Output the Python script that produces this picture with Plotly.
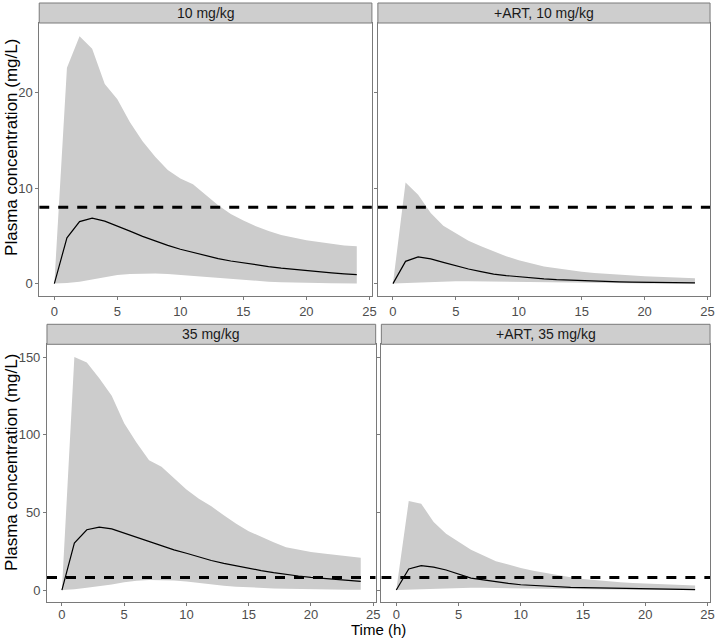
import plotly.graph_objects as go

# time grid (h)
time = list(range(25))

# 10 mg/kg
med_10 = [0, 4.8, 6.5, 6.85, 6.55, 6.05, 5.5, 4.95, 4.45, 4.0, 3.6, 3.25, 2.9,
          2.62, 2.37, 2.15, 1.95, 1.78, 1.62, 1.48, 1.35, 1.23, 1.12, 1.02, 0.93]
lo_10 = [0, 0.05, 0.2, 0.45, 0.7, 0.9, 1.0, 1.05, 1.05, 1.0, 0.9, 0.8, 0.65,
         0.55, 0.45, 0.35, 0.27, 0.2, 0.15, 0.1, 0.07, 0.05, 0.03, 0.02, 0.01]
hi_10 = [0, 22.6, 25.9, 24.6, 20.9, 19.3, 16.9, 14.9, 13.3, 11.9, 11.0, 10.4, 9.3,
         8.2, 7.3, 6.6, 6.0, 5.5, 5.1, 4.8, 4.55, 4.35, 4.15, 4.0, 3.9]

# +ART, 10 mg/kg
med_art10 = [0, 2.33, 2.79, 2.58, 2.23, 1.85, 1.53, 1.25, 1.0, 0.84, 0.7, 0.58, 0.49,
             0.41, 0.35, 0.29, 0.24, 0.2, 0.17, 0.15, 0.14, 0.12, 0.1, 0.08, 0.07]
lo_art10 = [0, 0.05, 0.12, 0.18, 0.22, 0.24, 0.24, 0.22, 0.2, 0.17, 0.14, 0.12, 0.1,
            0.08, 0.07, 0.06, 0.05, 0.04, 0.03, 0.03, 0.02, 0.02, 0.02, 0.02, 0.02]
hi_art10 = [0, 10.6, 9.3, 7.4, 6.06, 5.3, 4.5, 3.9, 3.35, 2.86, 2.44, 2.1, 1.8,
            1.6, 1.4, 1.25, 1.1, 1.0, 0.9, 0.83, 0.77, 0.71, 0.66, 0.61, 0.56]

# 35 mg/kg
med_35 = [0, 30.2, 38.8, 40.5, 39.4, 36.6, 34.0, 31.3, 28.7, 25.9, 23.7, 21.1, 19.0,
          17.2, 15.5, 14.0, 12.5, 11.2, 9.9, 9.05, 8.2, 7.5, 6.9, 6.25, 5.6]
lo_35 = [0, 0.5, 1.5, 2.5, 3.5, 5.0, 6.0, 6.5, 6.5, 6.2, 5.5, 4.5, 3.5,
         2.8, 2.2, 1.7, 1.3, 1.0, 0.8, 0.6, 0.5, 0.4, 0.3, 0.25, 0.2]
hi_35 = [0, 150.0, 146.5, 136.4, 125.0, 107.3, 94.8, 83.6, 79.3, 71.8, 64.7, 58.8, 53.9,
         48.1, 42.7, 37.9, 34.1, 30.8, 27.5, 25.8, 24.5, 23.5, 22.5, 21.6, 20.8]

# +ART, 35 mg/kg
med_art35 = [0, 13.6, 15.7, 14.7, 12.9, 10.5, 7.7, 6.5, 5.2, 4.3, 3.4, 2.9, 2.4,
             2.0, 1.7, 1.5, 1.3, 1.1, 0.9, 0.8, 0.65, 0.55, 0.45, 0.38, 0.3]
lo_art35 = [0, 0.3, 0.7, 1.0, 1.3, 1.5, 1.5, 1.4, 1.3, 1.1, 0.9, 0.75, 0.6,
            0.5, 0.4, 0.33, 0.27, 0.22, 0.18, 0.15, 0.12, 0.1, 0.08, 0.07, 0.06]
hi_art35 = [0, 57.3, 55.6, 43.8, 36.2, 30.8, 25.9, 22.2, 18.5, 16.4, 14.2, 12.5, 11.0,
            9.5, 8.2, 7.1, 6.25, 5.6, 5.0, 4.5, 4.1, 3.75, 3.45, 3.2, 3.0]

threshold = 8
panel_labels = ["10 mg/kg", "+ART, 10 mg/kg", "35 mg/kg", "+ART, 35 mg/kg"]
x_ticks = [0, 5, 10, 15, 20, 25]
y_ticks_top = [0, 10, 20]
y_ticks_bottom = [0, 50, 100, 150]

W, H = 723, 639
FONT = "Liberation Sans, Arial, sans-serif"
BAND = "#cccccc"
BORDER = "#7a7a7a"
TICKCOL = "#4d4d4d"


def fx(px):
    return px / W


def fy(px):
    return 1 - px / H


# panel boxes in pixels: (left, right, top, bottom)
boxes = [(39.5, 374.5, 23, 296), (380.5, 715, 23, 296),
         (47.3, 378.3, 344.3, 601.7), (384, 715, 344.3, 601.7)]
strip_h = 20

series = [(med_10, lo_10, hi_10), (med_art10, lo_art10, hi_art10),
          (med_35, lo_35, hi_35), (med_art35, lo_art35, hi_art35)]

fig = go.Figure()
layout = dict(width=W, height=H, margin=dict(l=0, r=0, t=0, b=0),
              paper_bgcolor="white", plot_bgcolor="white", showlegend=False,
              font=dict(family=FONT, color="black"))
shapes = []
annotations = []

for i, ((med, lo, hi), box, label) in enumerate(zip(series, boxes, panel_labels)):
    n = i + 1
    xa = "x" if n == 1 else f"x{n}"
    ya = "y" if n == 1 else f"y{n}"
    l, r, t, b = box
    top_row = i < 2
    left_col = i % 2 == 0

    fig.add_trace(go.Scatter(x=time, y=lo, mode="lines", line=dict(width=0),
                             xaxis=xa, yaxis=ya, hoverinfo="skip"))
    fig.add_trace(go.Scatter(x=time, y=hi, mode="lines", line=dict(width=0),
                             fill="tonexty", fillcolor=BAND,
                             xaxis=xa, yaxis=ya, hoverinfo="skip"))
    fig.add_trace(go.Scatter(x=time, y=med, mode="lines",
                             line=dict(color="black", width=1.2),
                             xaxis=xa, yaxis=ya))
    fig.add_trace(go.Scatter(x=[-1.2, 25.2], y=[threshold, threshold], mode="lines",
                             line=dict(color="black", width=3, dash="10px,9px"),
                             xaxis=xa, yaxis=ya))

    axis_common = dict(showgrid=False, zeroline=False, showline=True, mirror=True,
                       linecolor=BORDER, linewidth=1, ticks="outside", ticklen=3,
                       tickcolor=BORDER, tickfont=dict(size=13, color=TICKCOL,
                                                       family=FONT))
    layout["xaxis" if n == 1 else f"xaxis{n}"] = dict(
        axis_common, domain=[fx(l), fx(r)], range=[-1.2, 25.2],
        tickvals=x_ticks, anchor=ya, ticklabelstandoff=0 if top_row else -2)
    yr = [-1.3, 27.3] if top_row else [-7.5, 158.2]
    yt = y_ticks_top if top_row else y_ticks_bottom
    layout["yaxis" if n == 1 else f"yaxis{n}"] = dict(
        axis_common, domain=[fy(b), fy(t)], range=yr, tickvals=yt,
        showticklabels=left_col, anchor=xa)

    # strip
    shapes.append(dict(type="rect", xref="paper", yref="paper",
                       x0=fx(l), x1=fx(r), y0=fy(t), y1=fy(t - strip_h),
                       fillcolor="#cecece", line=dict(color=BORDER, width=1)))
    annotations.append(dict(text=label, xref="paper", yref="paper",
                            x=(fx(l) + fx(r)) / 2, y=fy(t - strip_h / 2),
                            xanchor="center", yanchor="middle",
                            showarrow=False, font=dict(size=14, color="#1a1a1a")))

# axis titles
for yc in [147, 462]:
    annotations.append(dict(text="Plasma concentration (mg/L)", xref="paper",
                            yref="paper", x=fx(11), y=fy(yc), textangle=-90,
                            xanchor="center", yanchor="middle",
                            showarrow=False, font=dict(size=17, color="black")))
annotations.append(dict(text="Time (h)", xref="paper", yref="paper",
                        x=fx(381), y=0, xanchor="center", yanchor="bottom",
                        borderpad=0, showarrow=False,
                        font=dict(size=15, color="black")))

layout["shapes"] = shapes
layout["annotations"] = annotations
fig.update_layout(**layout)
fig.write_html("out.html", config={"displayModeBar": False},
               post_script="document.body.style.margin='0';")
